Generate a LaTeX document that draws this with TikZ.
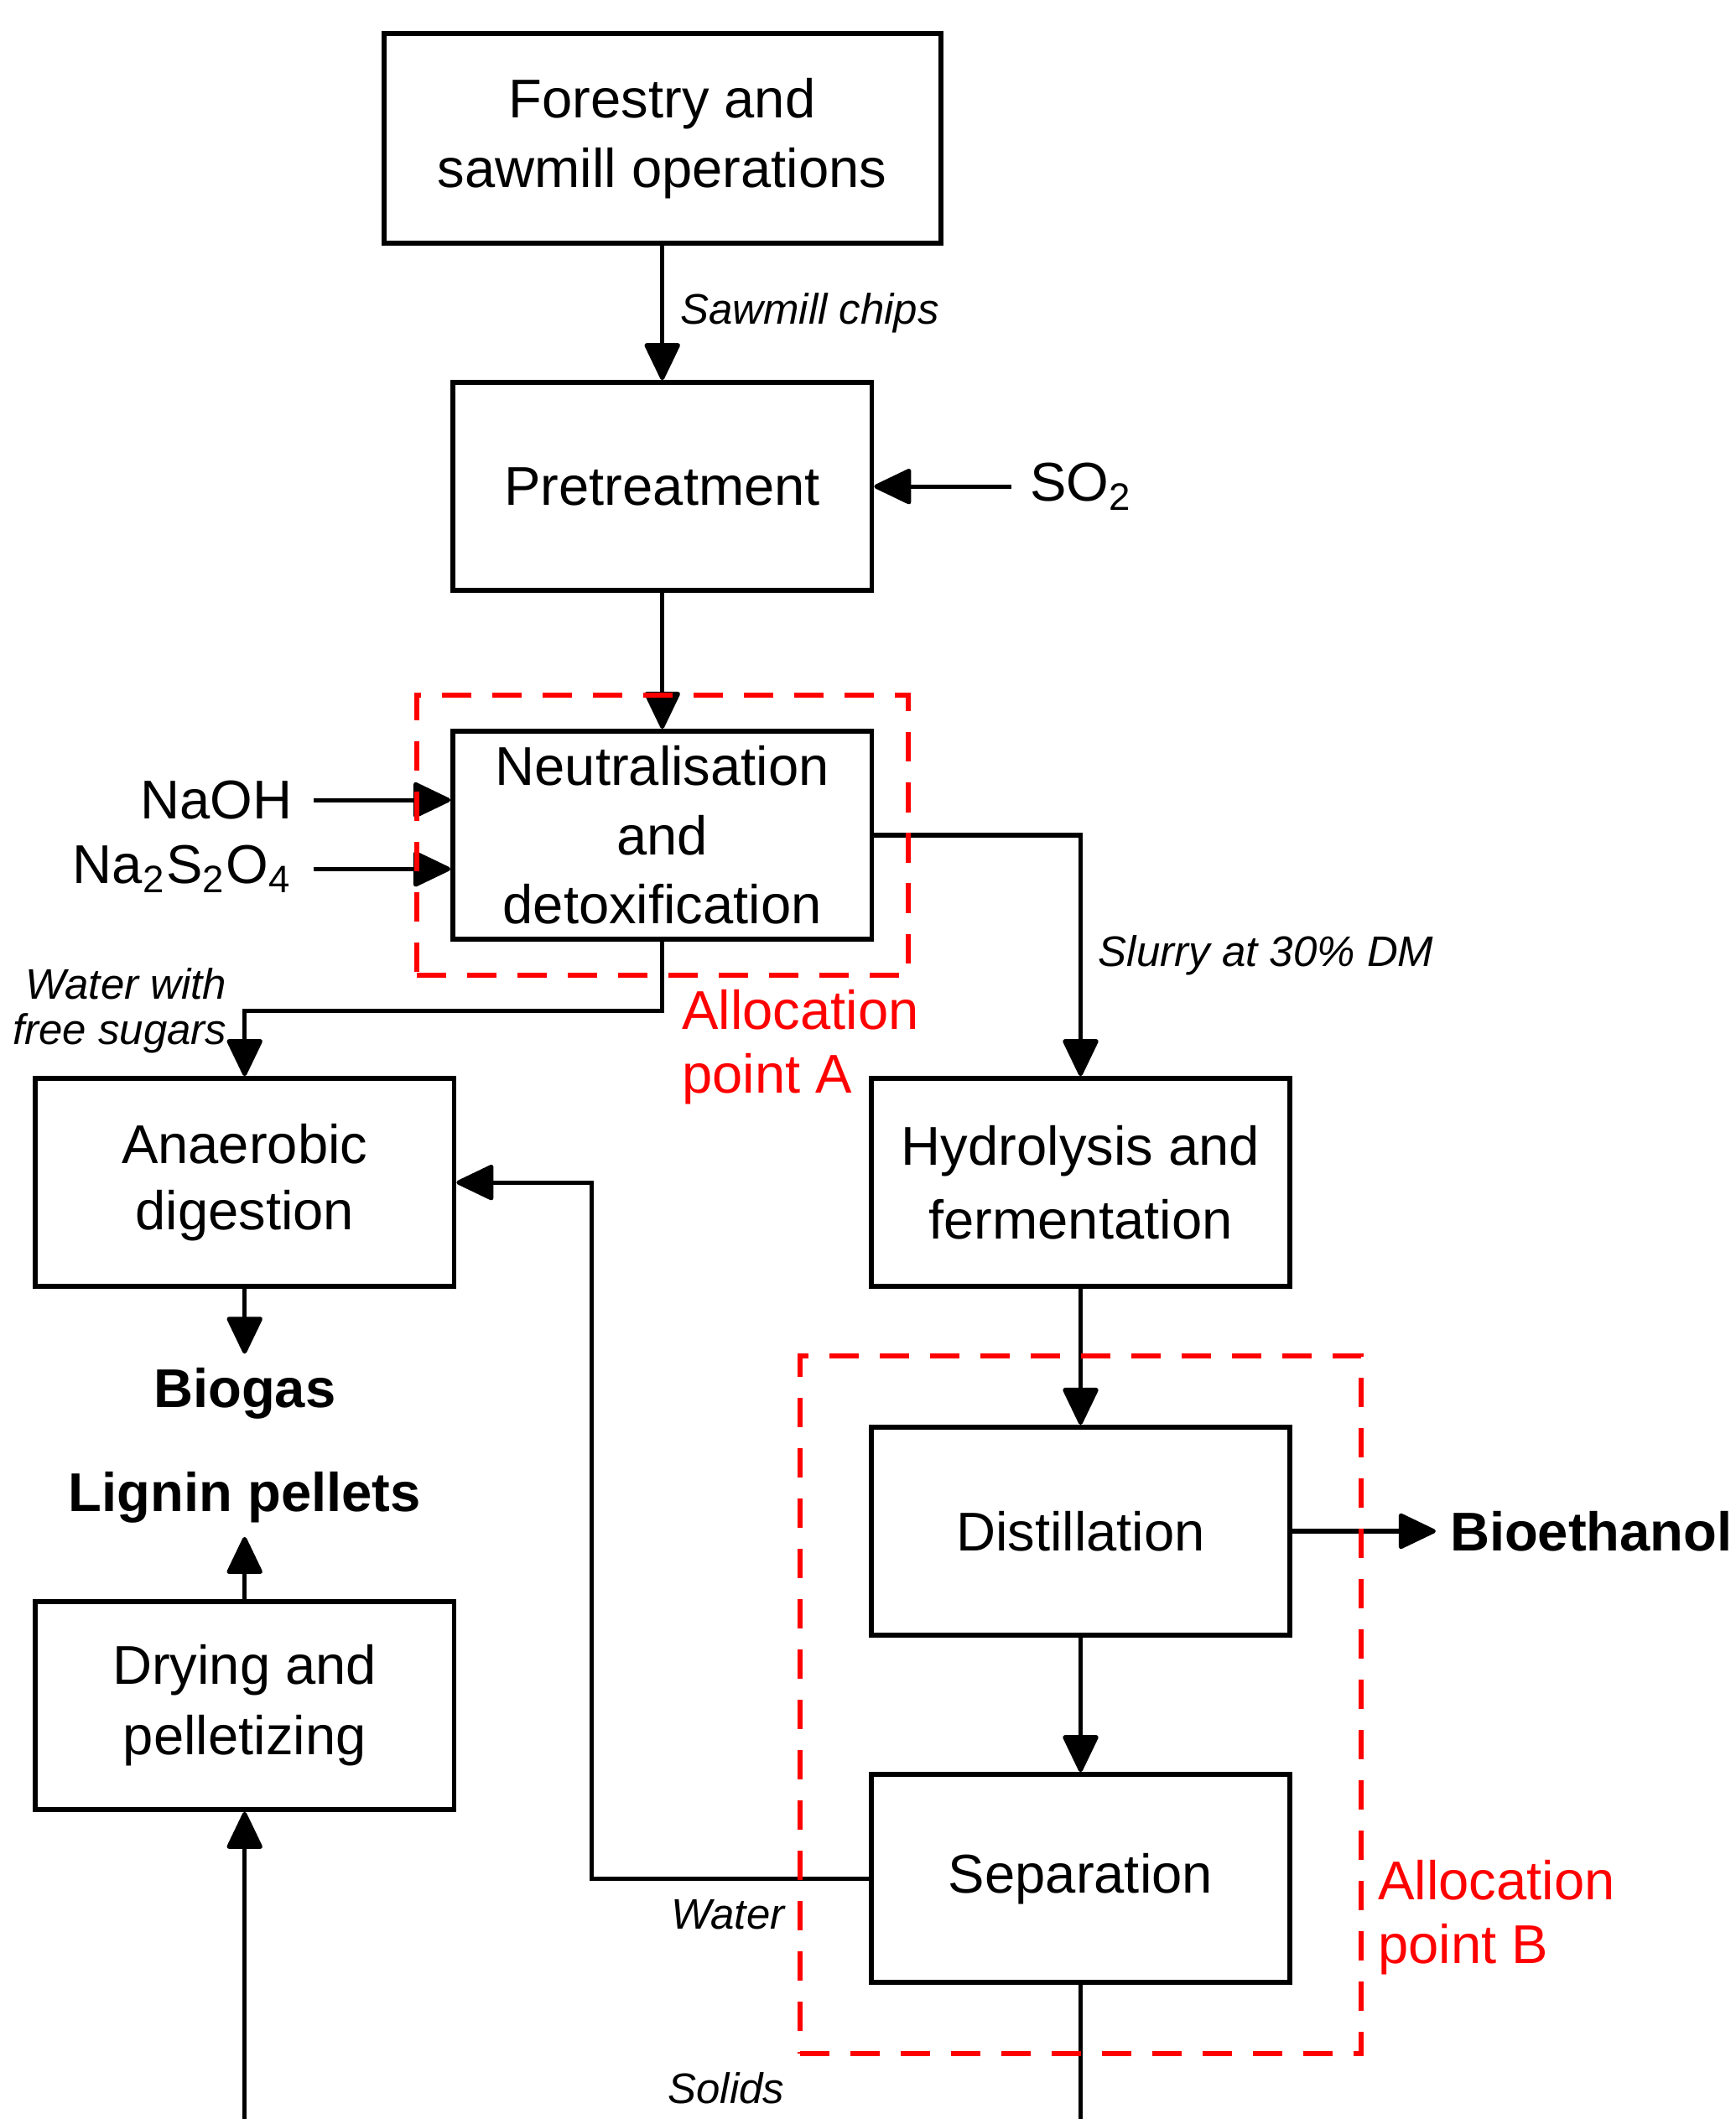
\documentclass[tikz,border=0pt]{standalone}
\usepackage{fontspec}
\setmainfont{Liberation Sans}
\usetikzlibrary{arrows.meta, positioning, calc, fit}
\tikzset{
  every picture/.style={font=\fontsize{11.5}{14.8}\selectfont, line width=0.9pt},
  proc/.style={draw, line width=1pt, minimum width=3.1cm, minimum height=1.54cm, align=center, inner sep=2pt},
  flow/.style={-{Triangle[round, length=8.4pt, width=7.8pt]}, line width=0.9pt},
  lbl/.style={font=\fontsize{9}{9.6}\selectfont\itshape, align=right},
  prod/.style={font=\fontsize{11.5}{14}\selectfont\bfseries, inner sep=2.5pt},
  allocbox/.style={draw=red, line width=1.1pt, dash pattern=on 6.2pt off 4.4pt},
  alloctext/.style={text=red, align=left, inner sep=0pt, font=\fontsize{11.5}{13.4}\selectfont},
}

\begin{document}
\begin{tikzpicture}
  \useasboundingbox (0,0) rectangle (12.84,-15.68);
  % process boxes
  \node[proc, minimum width=4.12cm, minimum height=1.55cm] (fst) at (4.90,-1.025) {Forestry and\\sawmill operations};
  \node[proc] (pre) at (4.90,-3.60) {Pretreatment};
  \node[proc, font=\fontsize{11.5}{14.6}\selectfont] (neu) at (4.90,-6.18) {Neutralisation\\and\\detoxification};
  \node[proc, font=\fontsize{11.5}{13.9}\selectfont] (ana) at (1.81,-8.75) {Anaerobic\\digestion};
  \node[proc, font=\fontsize{11.5}{15.5}\selectfont] (hyd) at (7.995,-8.75) {Hydrolysis and\\fermentation};
  \node[proc] (dist) at (7.995,-11.33) {Distillation};
  \node[proc] (sep) at (7.995,-13.90) {Separation};
  \node[proc] (dry) at (1.81,-12.62) {Drying and\\pelletizing};
  % inputs and products
  \node[anchor=west, inner sep=3.6pt] (so2) at (7.48,-3.60) {SO\textsubscript{2}};
  \node[anchor=east, inner sep=4pt] (naoh) at (2.32,-5.92) {NaOH};
  \node[anchor=east, inner sep=4pt] (dith) at (2.32,-6.43) {Na\textsubscript{2}S\textsubscript{2}O\textsubscript{4}};
  \node[prod] (biogas) at (1.81,-10.31) {Biogas};
  \node[prod] (lignin) at (1.81,-11.08) {Lignin pellets};
  \node[prod, anchor=west, inner sep=3.2pt] (ethanol) at (10.60,-11.33) {Bioethanol};
  \coordinate (wbend) at (4.38,-8.75);
  \coordinate (solidsend) at (7.995,-15.70);
  \coordinate (dryin) at (1.81,-15.70);
  % flows
  \draw[flow] (fst) -- node[lbl, right] {Sawmill chips} (pre);
  \draw[flow] (so2.west) -- (so2.west -| pre.east);
  \draw[flow] (pre) -- (neu);
  \draw[flow] (naoh.east) -- (naoh.east -| neu.west);
  \draw[flow] (dith.east) -- (dith.east -| neu.west);
  \draw[flow] (neu.east) -| node[lbl, right, pos=0.75, align=left] {Slurry at 30\% DM} (hyd.north);
  \draw[flow] (neu.south) -- ++(0,-0.51) -| node[lbl, left] {Water with\\free sugars} (ana.north);
  \draw[flow] (hyd) -- (dist);
  \draw[flow] (dist) -- (sep);
  \draw[flow] (dist.east) -- ++(1.06,0);
  \draw[flow] (ana) -- (biogas);
  \draw[flow] (dry) -- (lignin);
  \draw[flow] (sep.west) -| (wbend) -- (ana.east);
  \draw (sep.south) -- (solidsend);
  \draw[flow] (dryin) -- (dry.south);
  \node[lbl, anchor=east, inner sep=0pt] (wlbl) at (5.82,-14.17) {Water};
  \node[lbl, anchor=east, inner sep=0pt] (slbl) at (5.82,-15.45) {Solids};
  % allocation points
  \node[allocbox, fit=(neu), inner sep=0.25cm] (alA) {};
  \node[allocbox, fit=(dist)(sep), inner sep=0.51cm] (alB) {};
  \node[alloctext, anchor=west] (alAtxt) at (5.03,-7.75) {Allocation\\point A};
  \node[alloctext, anchor=west] (alBtxt) at (10.18,-14.19) {Allocation\\point B};
\end{tikzpicture}
\end{document}
